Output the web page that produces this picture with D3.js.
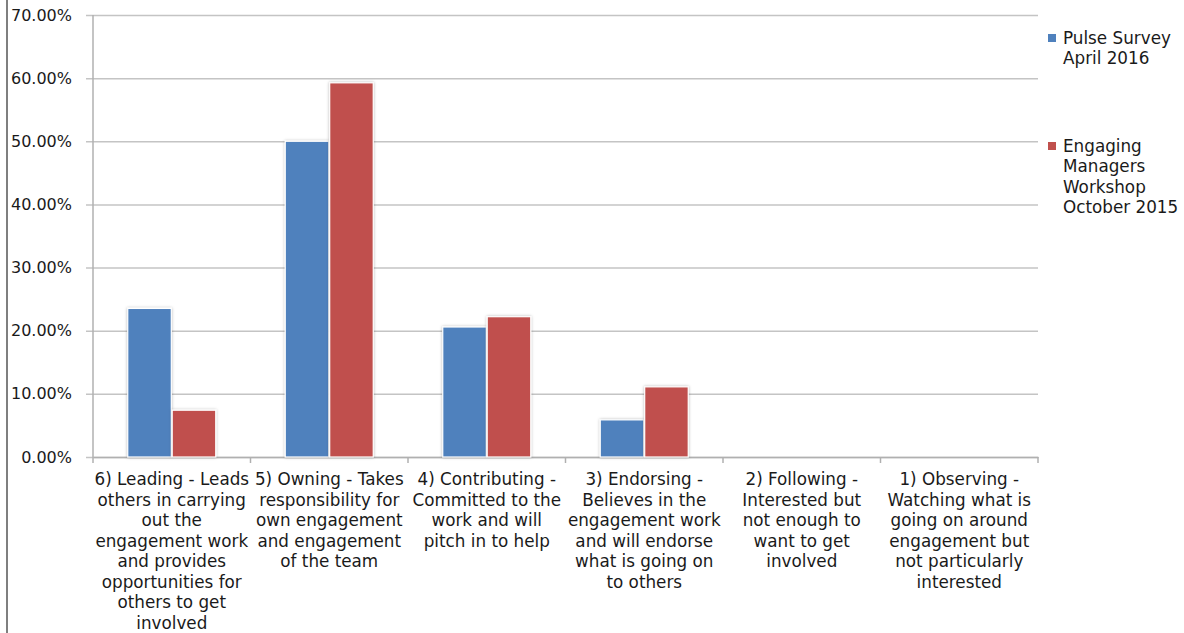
<!DOCTYPE html>
<html>
<head>
<meta charset="utf-8">
<script src="https://cdn.jsdelivr.net/npm/d3@7/dist/d3.min.js"></script>
<style>
  html, body { margin: 0; padding: 0; background: #fff; }
  svg { display: block; }
  text { font-family: "DejaVu Sans", sans-serif; fill: #1a1a1a; }
</style>
</head>
<body>
<svg id="chart" width="1184" height="633"></svg>
<script>
// Engagement levels, highest first; each label is pre-broken into lines
const categories = [
  ["6) Leading - Leads", "others in carrying", "out the", "engagement work", "and provides", "opportunities for", "others to get", "involved"],
  ["5) Owning - Takes", "responsibility for", "own engagement", "and engagement", "of the team"],
  ["4) Contributing -", "Committed to the", "work and will", "pitch in to help"],
  ["3) Endorsing -", "Believes in the", "engagement work", "and will endorse", "what is going on", "to others"],
  ["2) Following -", "Interested but", "not enough to", "want to get", "involved"],
  ["1) Observing -", "Watching what is", "going on around", "engagement but", "not particularly", "interested"]
];
const seriesNames = ["Pulse Survey April 2016", "Engaging Managers Workshop October 2015"];
const legendLines = [["Pulse Survey", "April 2016"], ["Engaging", "Managers", "Workshop", "October 2015"]];
const pulseSurvey = [0.2353, 0.5000, 0.2059, 0.0588, 0, 0];
const managersWorkshop = [0.0741, 0.5926, 0.2222, 0.1111, 0, 0];
const yTicks = [0, 0.1, 0.2, 0.3, 0.4, 0.5, 0.6, 0.7];
const colors = ["#4F81BD", "#C0504D"];

const svg = d3.select("#chart");
const plot = { left: 93, right: 1038, top: 15, bottom: 457 };

// left frame edge
svg.append("line").attr("x1", 7).attr("x2", 7).attr("y1", 0).attr("y2", 633)
  .attr("stroke", "#7f7f7f").attr("stroke-width", 2);

const x0 = d3.scaleBand().domain(d3.range(categories.length))
  .range([plot.left, plot.right]).paddingInner(0).paddingOuter(0);
const groupWidth = 88;
const x1 = d3.scaleBand().domain([0, 1]).range([0, groupWidth]).paddingInner(0.02);
const y = d3.scaleLinear().domain([0, 0.7]).range([plot.bottom, plot.top]);

const defs = svg.append("defs");
const f = defs.append("filter").attr("id", "shadow").attr("x", "-20%").attr("y", "-20%")
  .attr("width", "140%").attr("height", "140%");
f.append("feDropShadow").attr("dx", 0).attr("dy", 0).attr("stdDeviation", 1.6)
  .attr("flood-color", "#000").attr("flood-opacity", 0.28);

// gridlines with left tick stubs
const yAxis = d3.axisLeft(y).tickValues(yTicks)
  .tickSize(-(plot.right - plot.left)).tickSizeOuter(0)
  .tickFormat(d => (d * 100).toFixed(2) + "%").tickPadding(14);
const gy = svg.append("g").attr("transform", `translate(${plot.left},0)`).call(yAxis);
gy.select(".domain").remove();
gy.selectAll(".tick line").attr("stroke", "#c4c4c4").attr("stroke-width", 1.5)
  .attr("x1", -7).attr("x2", plot.right - plot.left);
gy.selectAll(".tick text").attr("font-size", 16).attr("fill", "#1a1a1a")
  .attr("font-family", "DejaVu Sans, sans-serif").attr("x", -21);

// vertical axis line
svg.append("line").attr("x1", plot.left).attr("x2", plot.left)
  .attr("y1", plot.top).attr("y2", plot.bottom).attr("stroke", "#b0b0b0").attr("stroke-width", 1.5);

// category axis
const xAxis = d3.axisBottom(x0).tickSize(0).tickFormat("");
const gx = svg.append("g").attr("transform", `translate(0,${plot.bottom})`).call(xAxis);
gx.select(".domain").attr("stroke", "#b0b0b0").attr("stroke-width", 1.5);
const bounds = d3.range(categories.length + 1).map(i => plot.left + i * x0.step());
gx.selectAll(".sep").data(bounds).join("line").attr("class", "sep")
  .attr("x1", d => d).attr("x2", d => d).attr("y1", 0).attr("y2", 6)
  .attr("stroke", "#b0b0b0").attr("stroke-width", 1.5);

// bars
const series = [pulseSurvey, managersWorkshop];
const groups = svg.append("g").selectAll("g").data(categories).join("g")
  .attr("transform", (d, i) => `translate(${x0(i) + x0.bandwidth() / 2 - groupWidth / 2},0)`);
groups.selectAll("rect").data((d, i) => series.map((s, k) => ({ k, v: s[i] })))
  .join("rect")
  .filter(d => d.v > 0)
  .attr("x", d => x1(d.k))
  .attr("width", x1.bandwidth())
  .attr("y", d => y(d.v))
  .attr("height", d => y(0) - y(d.v))
  .attr("fill", d => colors[d.k])
  .attr("stroke", "#fff").attr("stroke-width", 1.2)
  .attr("filter", "url(#shadow)");

// category labels
const lineH = 20.5;
const labels = svg.append("g").selectAll("text").data(categories).join("text")
  .attr("text-anchor", "middle").attr("font-size", 16.8)
  .attr("transform", (d, i) => `translate(${x0(i) + x0.bandwidth() / 2},485)`);
labels.selectAll("tspan").data(d => d).join("tspan")
  .attr("x", 0).attr("y", (d, j) => j * lineH).text(d => d);

// legend
const legendTop = [38, 146];
const lg = svg.append("g");
legendLines.forEach((lines, k) => {
  lg.append("rect").attr("x", 1048).attr("y", legendTop[k] - 4).attr("width", 8).attr("height", 8)
    .attr("fill", colors[k]);
  const t = lg.append("text").attr("font-size", 16.8).attr("x", 1063).attr("y", legendTop[k] + 6);
  t.selectAll("tspan").data(lines).join("tspan")
    .attr("x", 1063).attr("dy", (d, j) => j === 0 ? 0 : 20.3).text(d => d);
});
</script>
</body>
</html>
